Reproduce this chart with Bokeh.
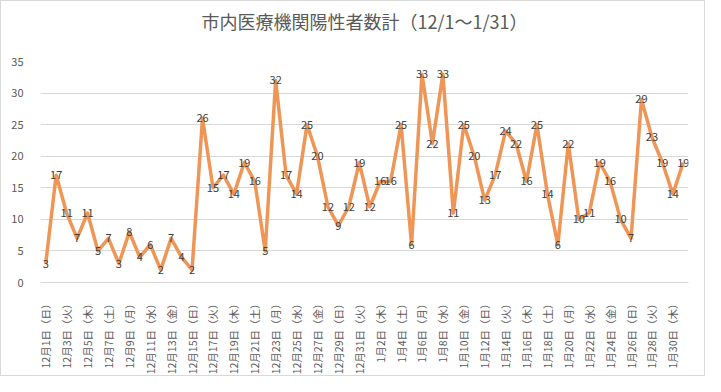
import datetime
from bokeh.plotting import figure
from bokeh.models import ColumnDataSource, Range1d, FixedTicker, Title
from bokeh.core.properties import value
from bokeh.embed import file_html
from bokeh.resources import INLINE
import math

title_text = "市内医療機関陽性者数計（12/1～1/31）"

dec_values = [3, 17, 11, 7, 11, 5, 7, 3, 8, 4, 6, 2, 7, 4, 2, 26, 15, 17, 14, 19,
              16, 5, 32, 17, 14, 25, 20, 12, 9, 12, 19]
jan_values = [12, 16, 16, 25, 6, 33, 22, 33, 11, 25, 20, 13, 17, 24, 22, 16, 25, 14,
              6, 22, 10, 11, 19, 16, 10, 7, 29, 23, 19, 14, 19]
weekdays = ["月", "火", "水", "木", "金", "土", "日"]
start_date = datetime.date(2019, 12, 1)

values = dec_values + jan_values
dates = [start_date + datetime.timedelta(days=i) for i in range(len(values))]
labels = [f"{d.month}月{d.day}日（{weekdays[d.weekday()]}）" for d in dates]
xs = list(range(len(values)))

src = ColumnDataSource(dict(x=xs, y=values, t=[str(v) for v in values]))

FONT = "Noto Sans CJK JP"
GRAY = "#595959"
GRID = "#D9D9D9"

p = figure(width=705, height=376, output_backend="svg", toolbar_location=None,
           x_range=Range1d(-0.5, len(values) - 0.5), y_range=Range1d(0, 35),
           min_border_left=39, min_border_right=18, min_border_top=60, min_border_bottom=85)
p.styles = {"border": "1px solid #D9D9D9"}
p.outline_line_color = None
p.background_fill_color = "white"

p.title.text = title_text
p.title.text_font = FONT
p.title.text_font_size = "18px"
p.title.text_font_style = "normal"
p.title.text_color = GRAY
p.title.align = "center"
p.title.standoff = 0
p.title.offset = -14

# spacer between the title and the plot frame
spacer = Title(text=" ", text_font_size="2px", standoff=24)
p.add_layout(spacer, "above")

p.line("x", "y", source=src, line_color="#EF9656", line_width=3.5, line_join="round")
p.text("x", "y", text="t", source=src, text_align="center", text_baseline="middle",
       text_font=value(FONT), text_font_size="11px", text_color="#404040")

p.xgrid.grid_line_color = None
p.ygrid.grid_line_color = GRID
p.ygrid.grid_line_width = 1

p.yaxis.ticker = FixedTicker(ticks=[0, 5, 10, 15, 20, 25, 30, 35])
p.yaxis.axis_line_color = None
p.yaxis.major_tick_line_color = None
p.yaxis.minor_tick_line_color = None
p.yaxis.major_label_standoff = 11
p.yaxis.major_label_text_font = FONT
p.yaxis.major_label_text_font_size = "11px"
p.yaxis.major_label_text_color = GRAY

tick_idx = list(range(0, len(values), 2))
p.xaxis.ticker = FixedTicker(ticks=tick_idx)
p.xaxis.major_label_overrides = {i: labels[i] for i in tick_idx}
p.xaxis.major_label_orientation = math.pi / 2
p.xaxis.axis_line_color = GRID
p.xaxis.major_tick_line_color = None
p.xaxis.minor_tick_line_color = None
p.xaxis.major_label_standoff = 10
p.xaxis.major_label_text_font = FONT
p.xaxis.major_label_text_font_size = "10.5px"
p.xaxis.major_label_text_color = GRAY

open("out.html", "w").write(file_html(p, INLINE))
